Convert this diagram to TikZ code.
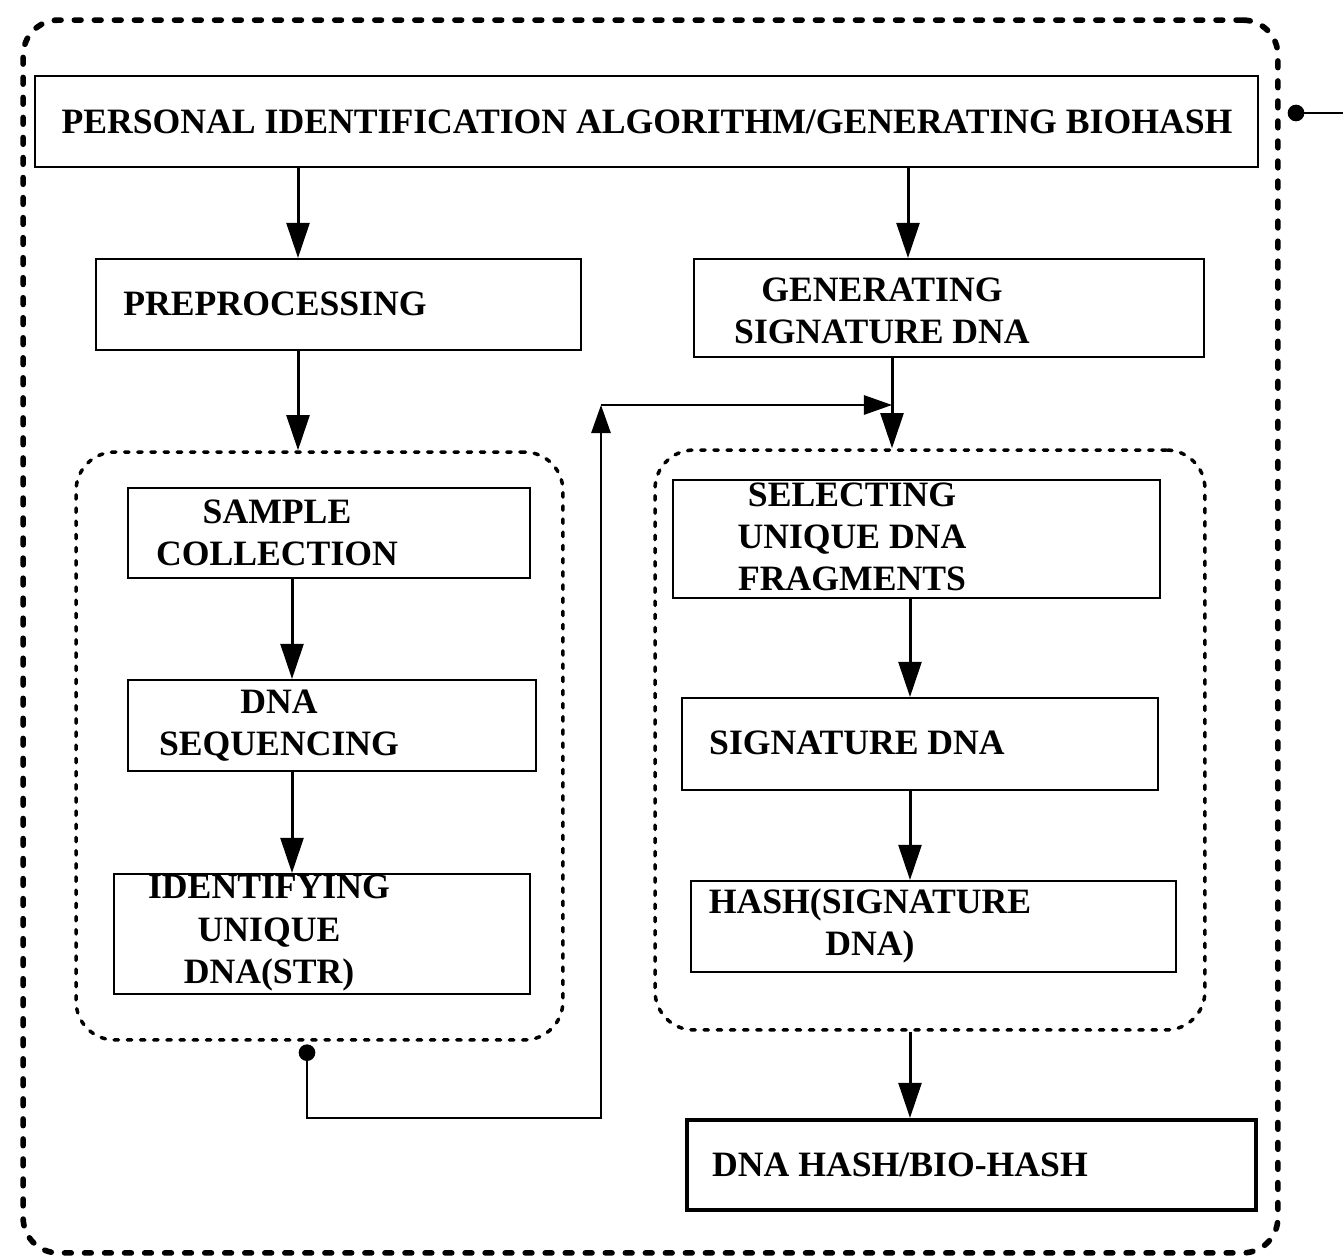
\documentclass[tikz,border=0pt]{standalone}
\usepackage{fontspec}
\setmainfont{Liberation Serif}
\usetikzlibrary{arrows.meta, positioning}

\tikzset{
  blk/.style={draw, line width=1.1pt, inner sep=0pt},
  txt/.style={align=center, inner sep=0pt, font=\fontsize{20.3}{24}\selectfont\bfseries},
  arr/.style={line width=1.7pt, -{Triangle[length=20pt,width=13pt]}},
  conn/.style={line width=1.1pt, -{Triangle[length=16pt,width=11pt]}},
  grp/.style={draw, line width=2pt, line cap=round, dash pattern=on 2.5pt off 5pt, rounded corners=22pt, inner sep=0pt},
  frame/.style={draw, line width=3.2pt, line cap=round, dash pattern=on 3.8pt off 7.6pt, rounded corners=20pt, inner sep=0pt},
  dot/.style={circle, fill, inner sep=0pt, minimum size=9.5pt},
}

\begin{document}
\begin{tikzpicture}[x=0.02cm, y=-0.02cm]
        \useasboundingbox (0,0) rectangle (1343,1260);
        % Frames round the whole thing and round the two stages
        \node[frame, minimum width=25.1cm,  minimum height=24.66cm] at (650.5,636.5) (outer) {};
        \node[grp,   minimum width=9.74cm,  minimum height=11.76cm] at (319.5,746)   (lgrp)  {};
        \node[grp,   minimum width=11cm,    minimum height=11.6cm]  at (930,740)     (rgrp)  {};
        % Draw the boxes
        \node[blk, minimum width=24.46cm, minimum height=1.82cm] at (646.5,121.5) (top)   {};
        \node[blk, minimum width=9.7cm,   minimum height=1.82cm] at (338.5,304.5) (pre)   {};
        \node[blk, minimum width=10.2cm,  minimum height=1.96cm] at (949,308)     (gen)   {};
        \node[blk, minimum width=8.04cm,  minimum height=1.8cm]  at (329,533)     (samp)  {};
        \node[blk, minimum width=8.16cm,  minimum height=1.82cm] at (332,725.5)   (seq)   {};
        \node[blk, minimum width=8.32cm,  minimum height=2.4cm]  at (322,934)     (ident) {};
        \node[blk, minimum width=9.74cm,  minimum height=2.36cm] at (916.5,539)   (sel)   {};
        \node[blk, minimum width=9.52cm,  minimum height=1.84cm] at (920,744)     (sig)   {};
        \node[blk, minimum width=9.7cm,   minimum height=1.82cm] at (933.5,926.5) (hash)  {};
        \node[blk, line width=2.3pt, minimum width=11.38cm, minimum height=1.8cm] at (971.5,1165) (bio) {};
        % Labels
        \node[txt] at (647,122) {PERSONAL IDENTIFICATION ALGORITHM/GENERATING BIOHASH};
        \node[txt] at (275,304) {PREPROCESSING};
        \node[txt] at (882,311) {GENERATING\\SIGNATURE DNA};
        \node[txt] at (277,533) {SAMPLE\\COLLECTION};
        \node[txt] at (279,726) {DNA\\SEQUENCING};
        \node[txt] at (269,933) {IDENTIFYING\\UNIQUE\\DNA(STR)};
        \node[txt] at (852,537) {SELECTING\\UNIQUE DNA\\FRAGMENTS};
        \node[txt] at (857,743) {SIGNATURE DNA};
        \node[txt] at (870,926) {HASH(SIGNATURE\\DNA)};
        \node[txt] at (900,1165) {DNA HASH/BIO-HASH};
        % Connect the boxes with arrows
        \draw[arr] ([xshift=-0.81cm]pre.north |- top.south) -- ([xshift=-0.81cm]pre.north);
        \draw[arr] ([xshift=-0.82cm]gen.north |- top.south) -- ([xshift=-0.82cm]gen.north);
        \draw[arr] ([xshift=-0.81cm]pre.south) -- ([xshift=-0.81cm]pre.south |- lgrp.north);
        \draw[arr] ([xshift=-0.74cm]samp.south) -- ([xshift=-0.74cm]samp.south |- seq.north);
        \draw[arr] ([xshift=-0.8cm]seq.south) -- ([xshift=-0.8cm]seq.south |- ident.north);
        \draw[arr] ([xshift=-0.13cm]sel.south) -- ([xshift=-0.13cm]sel.south |- sig.north);
        \draw[arr] ([xshift=-0.2cm]sig.south) -- ([xshift=-0.2cm]sig.south |- hash.north);
        \draw[arr] ([xshift=-0.4cm]rgrp.south) -- ([xshift=-0.4cm]rgrp.south |- bio.north);
        \draw[arr] ([xshift=-1.14cm]gen.south) -- ([xshift=-1.14cm]gen.south |- rgrp.north);
        % Loop back from the first stage into the second
        \node[dot] at ([shift={(-0.25cm,-0.22cm)}]lgrp.south) (dotL) {};
        \coordinate (c1) at (601,1118);
        \coordinate (c2) at (601,405);
        \coordinate (j) at ([xshift=-1.14cm]gen.south |- c2);
        \draw[conn] (dotL.center) |- (c1) -- (c2);
        \draw[conn] (c2) -- (j);
        % Output of the whole block
        \node[dot] at (1296,113) (dotR) {};
        \coordinate (outR) at (1343,113);
        \draw[line width=1.1pt] (dotR.center) -- (outR);
\end{tikzpicture}
\end{document}
